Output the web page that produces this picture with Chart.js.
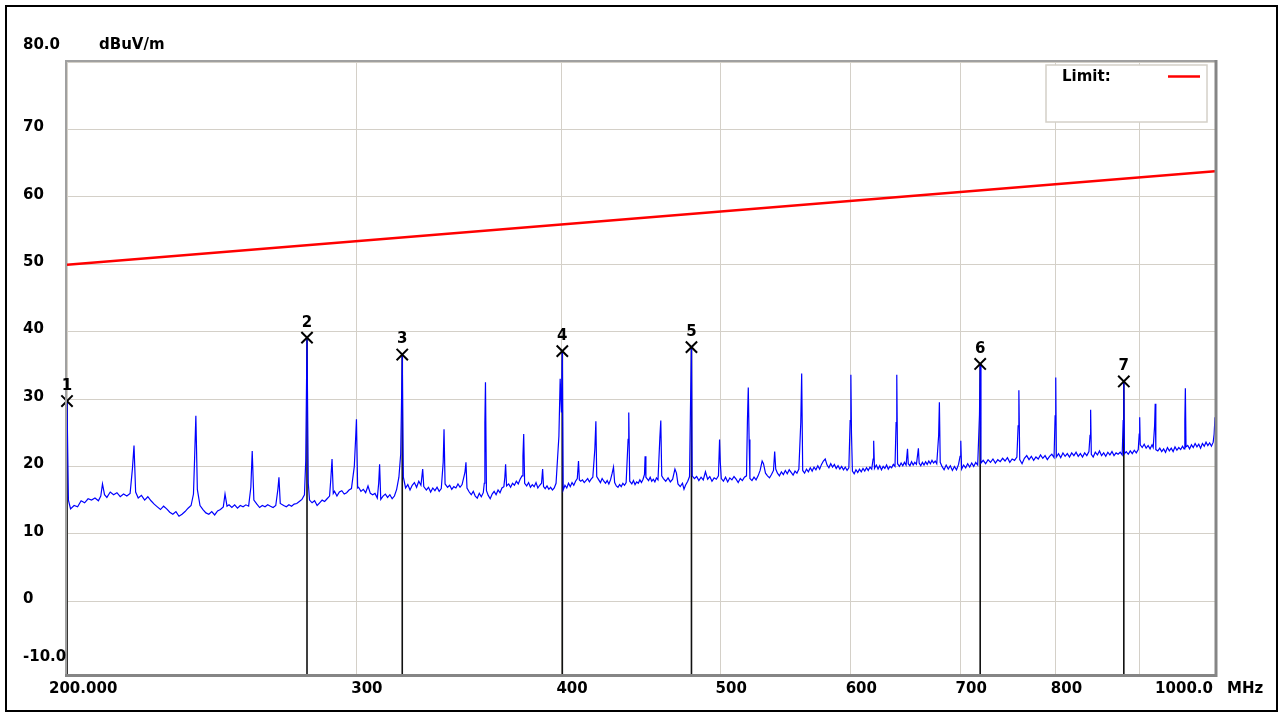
<!DOCTYPE html>
<html>
<head>
<meta charset="utf-8">
<title>Radiated emission 200 - 1000 MHz</title>
<script src="https://cdn.jsdelivr.net/npm/chart.js@4.4.1/dist/chart.umd.min.js"></script>
<style>
  html, body { margin: 0; padding: 0; background: #fff; }
  canvas { display: block; }
</style>
</head>
<body>
<canvas id="chart" width="1282" height="725"></canvas>
<script>
const trace = [
  [200, 29.7], [200.4, 15.0], [201, 13.7], [202, 14.2], [203, 14.0], [204, 14.9], [205, 14.6], [206, 15.2], [207, 15.0],
  [208, 15.3], [209, 14.9], [209.7, 15.6], [210.2, 17.4], [210.8, 15.8], [211.5, 15.4], [212.5, 16.2], [213.5, 15.8],
  [214.5, 16.1], [215.5, 15.5], [216.5, 15.9], [217.5, 15.6], [218.5, 16.0], [219.2, 19.6], [219.7, 23.1], [220.2, 16.2],
  [221, 15.3], [222, 15.7], [223, 15.0], [224, 15.5], [225, 14.9], [226, 14.4], [227, 14.0], [228, 13.6], [229, 14.1],
  [230, 13.7], [231, 13.2], [232, 12.9], [233, 13.3], [234, 12.6], [235, 12.9], [236, 13.3], [237, 13.8], [238, 14.2],
  [238.8, 15.9], [239.2, 21.5], [239.6, 27.5], [240.1, 16.6], [241, 14.2], [242, 13.6], [243, 13.1], [244, 12.9],
  [245, 13.3], [246, 12.8], [247, 13.4], [248, 13.6], [249, 14.0], [249.6, 15.9], [250.3, 14.1], [251, 14.3], [252, 13.9],
  [253, 14.3], [254, 13.8], [255, 14.2], [256, 14.0], [257, 14.3], [258, 14.1], [258.8, 16.9], [259.3, 22.3], [259.9, 15.0],
  [261, 14.4], [262, 13.9], [263, 14.2], [264, 14.0], [265, 14.3], [266, 14.1], [267, 13.9], [268, 14.2], [268.8, 16.6],
  [269.2, 18.4], [269.7, 14.5], [271, 14.2], [272, 14.0], [273, 14.3], [274, 14.1], [275, 14.4], [276, 14.5], [277, 14.8],
  [278, 15.1], [279, 15.8], [279.5, 20.8], [280, 39.1], [280.5, 17.5], [281, 15.0], [282, 14.6], [283, 14.9], [284, 14.2],
  [285, 14.6], [286, 15.0], [287, 14.8], [288, 15.2], [289, 15.6], [289.5, 18.1], [290, 21.1], [290.5, 16.0], [291, 16.3],
  [292, 15.6], [293, 16.2], [294, 16.4], [295, 15.9], [296, 16.1], [297, 16.5], [298, 16.7], [299.2, 20.0], [299.8, 24.5],
  [300.1, 27.0], [300.6, 16.8],
  [301, 16.9], [302, 16.3], [303, 16.6], [304, 16.1], [305, 17.1], [306, 16.0], [307, 15.8], [308, 16.0], [309, 15.3],
  [309.6, 17.5], [310, 20.3], [310.5, 15.1], [311.5, 15.6], [312.5, 15.9], [313.5, 15.4], [314.5, 15.8], [315.5, 15.2],
  [316.5, 15.6], [317.5, 16.6], [318.5, 18.4], [319.3, 21.8], [319.7, 30.0], [320, 36.6], [320.5, 18.4], [321.5, 16.8],
  [322.5, 17.3], [323.5, 16.5], [324.5, 17.2], [325.5, 17.6], [326.5, 16.9], [327.5, 17.8], [328.5, 17.2], [329.3, 19.6],
  [329.8, 17.0], [331, 16.5], [332, 16.9], [333, 16.2], [334, 16.8], [335, 16.4], [336, 16.9], [337, 16.3], [338, 16.7],
  [338.9, 20.6], [339.3, 25.5], [339.8, 17.4], [341, 16.9], [342, 17.2], [343, 16.6], [344, 17.0], [345, 16.8], [346, 17.4],
  [347, 16.9], [348, 17.3], [349.4, 19.1], [349.9, 20.6], [350.4, 16.8], [351.5, 16.2], [352.5, 15.8], [353.5, 16.3],
  [354.5, 15.6], [355.5, 15.3], [356.5, 16.0], [357.5, 15.5], [358.5, 16.1], [359, 17.5], [359.3, 26.5], [359.6, 32.5],
  [360.1, 16.4], [361, 15.7], [362, 15.2], [363, 15.9], [364, 16.3], [365, 15.8], [366, 16.5], [367, 16.1], [368, 16.8],
  [369, 17.0], [369.5, 18.4], [369.9, 20.3], [370.4, 17.1], [371.5, 17.4], [372.5, 16.9], [373.5, 17.5], [374.5, 17.2],
  [375.5, 17.8], [376.5, 17.4], [377.5, 18.1], [378.5, 18.6], [379, 21.5], [379.4, 24.8], [379.9, 17.5], [381, 17.1],
  [382, 17.6], [383, 16.9], [384, 17.3], [385, 17.0], [386, 17.6], [387, 16.8], [388, 17.2], [389, 17.5], [389.6, 19.6],
  [390.1, 17.0], [391, 16.7], [392, 17.1], [393, 16.6], [394, 16.9], [395, 16.5], [396, 16.8], [397, 17.5], [398.6, 24.5],
  [399.3, 33.0], [400, 28.0], [400.5, 37.1], [401, 16.5], [402, 17.2], [403, 16.8], [404, 17.5], [405, 17.0], [406, 17.6],
  [407, 17.2], [408, 17.8], [409, 18.2], [409.7, 20.8], [410.2, 18.0], [411, 17.8], [412, 18.0], [413, 17.6], [414, 17.9],
  [415, 18.2], [416, 17.7], [417, 18.1], [418, 18.4], [419.2, 22.6], [419.8, 26.7], [420.3, 18.5], [421.5, 18.0],
  [422.5, 17.6], [423.5, 18.2], [424.5, 17.8], [425.5, 17.5], [426.5, 17.9], [427.5, 17.4], [428.5, 18.0], [429.5, 19.0],
  [430.3, 19.9], [431, 17.6], [432, 17.1], [433, 16.9], [434, 17.3], [435, 17.0], [436, 17.5], [437, 17.2], [438, 17.6],
  [439.2, 24.0], [439.6, 28.0], [440.2, 17.8], [441.5, 17.4], [442.5, 17.9], [443.5, 17.3], [444.5, 17.7], [445.5, 17.5],
  [446.5, 18.0], [447.5, 17.6], [448.5, 18.1], [449.4, 18.8], [449.8, 21.5], [450.3, 18.4],
  [451, 18.2], [452, 17.9], [453, 18.4], [454, 17.8], [455, 18.1], [456, 17.7], [457, 18.3], [458, 18.0], [459.2, 24.3],
  [459.8, 26.8], [460.4, 18.6], [461.5, 18.2], [463, 17.8], [464.5, 18.3], [466, 17.7], [467.5, 18.1], [469, 19.6],
  [470, 19.0], [471, 17.4], [472.5, 17.0], [474, 17.5], [475, 16.6], [476, 17.2], [477.5, 17.8], [478.7, 18.5],
  [479.3, 28.2], [480, 37.7], [480.5, 18.6], [482, 18.2], [483.5, 18.5], [485, 17.9], [486.5, 18.4], [488, 18.0],
  [489.5, 19.2], [491, 18.1], [492.5, 18.5], [494, 17.8], [495.5, 18.3], [497, 18.1], [498.5, 18.6], [499.3, 24.0],
  [499.8, 20.6], [500.5, 18.2], [502, 17.8], [503.5, 18.4], [505, 17.7], [506.5, 18.3], [508, 18.0], [509.5, 18.5],
  [511, 18.1], [512.5, 17.6], [514, 18.2], [515.5, 17.9], [517, 18.4], [518.5, 18.6], [519.2, 27.0], [519.8, 31.7],
  [520.4, 24.0], [521, 18.2], [522.5, 17.9], [524, 18.4], [525.5, 18.0], [527, 18.6], [528.5, 19.4], [530, 20.8],
  [531, 20.4], [532.5, 19.0], [534, 18.6], [535.5, 18.3], [537, 18.8], [538.5, 19.4], [539.4, 22.2], [540.2, 19.6],
  [541.5, 19.0], [543, 18.6], [544.5, 19.2], [546, 18.8], [547.5, 19.4], [549, 18.9], [550.5, 19.5], [552, 19.1],
  [553.5, 18.7], [555, 19.3], [556.5, 19.0], [558, 19.6], [559.5, 26.5], [560.2, 33.8], [561, 19.4], [562.5, 19.0],
  [564, 19.6], [565.5, 19.2], [567, 19.8], [568.5, 19.3], [570, 19.9], [571.5, 19.5], [573, 20.1], [574.5, 19.6],
  [576, 20.3], [577.5, 20.8], [579, 21.1], [580.5, 20.2], [582, 19.8], [583.5, 20.4], [585, 19.9], [586.5, 20.3],
  [588, 19.7], [589.5, 20.1], [591, 19.6], [592.5, 20.0], [594, 19.5], [595.5, 19.9], [597, 19.4], [598.5, 19.8],
  [599.6, 26.8], [600.2, 33.6], [600.7, 25.0], [601.5, 19.3], [603, 18.9], [604.5, 19.5], [606, 19.1], [607.5, 19.6],
  [609, 19.2], [610.5, 19.7], [612, 19.3], [613.5, 19.8], [615, 19.4], [616.5, 19.9], [618, 19.6], [619.2, 21.1],
  [619.7, 23.8], [620.4, 19.7], [622, 20.2], [623.5, 19.6], [625, 20.1], [626.5, 19.5], [628, 20.0], [629.5, 19.7],
  [631, 20.2], [632.5, 19.6], [634, 20.0], [635.5, 19.8], [637, 20.3], [638.5, 20.0], [639.5, 26.5], [640.1, 33.6],
  [640.8, 20.4], [642.5, 20.0], [644, 20.5], [645.5, 20.1], [647, 20.6], [648.5, 20.2], [649.8, 22.6], [650.5, 20.4],
  [652, 20.1], [653.5, 20.7], [655, 20.2], [656.5, 20.6], [658, 20.3], [659.8, 22.7], [660.5, 20.5], [662, 20.1],
  [663.5, 20.6], [665, 20.2], [666.5, 20.7], [668, 20.3], [669.5, 20.8], [671, 20.4], [672.5, 20.9], [674, 20.5],
  [675.5, 20.8], [677, 20.4], [678.8, 24.6], [679.5, 29.5], [680.3, 20.6],
  [682, 20.0], [684, 19.5], [686, 20.2], [688, 19.6], [690, 20.1], [692, 19.4], [694, 20.0], [696, 19.5], [698, 20.3],
  [699.5, 21.5], [700.2, 23.8], [701, 19.6], [703, 20.2], [705, 19.8], [707, 20.4], [709, 19.9], [711, 20.5], [713, 20.0],
  [715, 20.6], [717, 20.2], [718.8, 27.7], [719.5, 35.2], [720.3, 20.5], [722.5, 20.9], [725, 20.4], [727.5, 21.0],
  [730, 20.6], [732.5, 21.1], [735, 20.5], [737.5, 21.0], [740, 20.7], [742.5, 21.2], [745, 20.8], [747.5, 21.3],
  [750, 20.6], [752.5, 21.1], [755, 20.9], [757.5, 21.4], [758.8, 26.0], [759.6, 31.3], [760.5, 21.0], [763, 20.4],
  [765.5, 21.2], [768, 21.6], [770.5, 21.0], [773, 21.5], [775.5, 20.9], [778, 21.4], [780.5, 21.1], [783, 21.7],
  [785.5, 21.2], [788, 21.6], [790.5, 21.0], [793, 21.5], [795.5, 21.8], [798, 21.3], [799.2, 27.5], [799.9, 33.2],
  [800.6, 21.4], [803, 21.9], [805.5, 21.3], [808, 22.0], [810.5, 21.5], [813, 21.9], [815.5, 21.4], [818, 22.0],
  [820.5, 21.6], [823, 22.1], [825.5, 21.5], [828, 21.9], [830.5, 21.4], [833, 22.0], [835.5, 21.6], [838, 22.2],
  [839.3, 24.6], [840, 28.4], [840.8, 21.8], [843, 21.4], [845.5, 22.1], [848, 21.7], [850.5, 22.3], [853, 21.6],
  [855.5, 22.0], [858, 21.5], [860.5, 22.1], [863, 21.7], [865.5, 22.2], [868, 21.6], [870.5, 22.0], [873, 21.8],
  [875.5, 22.1], [878, 21.7], [879.2, 26.8], [880, 32.6], [880.8, 21.9], [883, 22.2], [885.5, 21.8], [888, 22.3],
  [890.5, 21.9], [893, 22.4], [895.5, 22.0], [898, 22.5], [899.2, 24.8], [899.8, 27.3], [900.5, 23.2], [903, 22.8],
  [905.5, 23.3], [908, 22.7], [910.5, 23.1], [913, 22.6], [915.5, 23.2], [917, 22.8], [918.8, 26.0], [919.6, 29.3],
  [920.4, 22.5], [923, 22.3], [925.5, 22.7], [928, 22.2], [930.5, 22.6], [933, 22.1], [935.5, 22.8], [938, 22.3],
  [940.5, 22.7], [943, 22.2], [945.5, 22.9], [948, 22.4], [950.5, 22.8], [953, 22.5], [955.5, 23.0], [957.5, 22.6],
  [958.6, 26.8], [959.3, 31.6], [960.2, 22.9], [962.5, 23.1], [965, 22.6], [967.5, 23.2], [970, 22.8], [972.5, 23.4],
  [975, 22.9], [977.5, 23.3], [980, 22.7], [982.5, 23.4], [985, 23.0], [987.5, 23.6], [990, 23.1], [992.5, 23.5],
  [995, 23.0], [997.5, 23.6], [998.8, 24.8], [1000, 27.3]
];

const limitMHz = [200, 1000];
const limitDB = [49.9, 63.8];

const markerMHz = [200, 280, 320, 400.5, 480, 719.5, 880];
const markerDB = [29.7, 39.1, 36.6, 37.1, 37.7, 35.2, 32.6];
const markerNames = ["1", "2", "3", "4", "5", "6", "7"];

const xGrid = [200, 300, 400, 500, 600, 700, 800, 900, 1000];
const xTickLabels = ["200.000", "300", "400", "500", "600", "700", "800", "", "1000.0"];
const yGrid = [0, 10, 20, 30, 40, 50, 60, 70, 80];
const yLabelValues = [80, 70, 60, 50, 40, 30, 20, 10, 0, -10];
const yTickLabels = ["80.0", "70", "60", "50", "40", "30", "20", "10", "0", "-10.0"];

const yMin = -10.8;
const yMax = 80;

const FONT = "bold 15px 'DejaVu Sans'";

// marker stems: one segment per marker, broken by nulls
let stems = [];
markerMHz.forEach((f, i) => {
  stems.push({ x: f, y: markerDB[i] });
  stems.push({ x: f, y: yMin });
  stems.push({ x: f, y: null });
});

// frame, legend box and all the text
const decor = {
  id: "decor",
  afterDraw(chart) {
    const ctx = chart.ctx;
    const a = chart.chartArea;
    const xs = chart.scales.x;
    const ys = chart.scales.y;
    ctx.save();

    // plot frame
    ctx.strokeStyle = "#a0a0a0";
    ctx.lineWidth = 2;
    ctx.beginPath();
    ctx.moveTo(a.left - 1, a.bottom);
    ctx.lineTo(a.left - 1, a.top - 1);
    ctx.lineTo(a.right, a.top - 1);
    ctx.stroke();
    ctx.strokeStyle = "#858585";
    ctx.lineWidth = 3;
    ctx.beginPath();
    ctx.moveTo(a.right + 1, a.top - 2);
    ctx.lineTo(a.right + 1, a.bottom + 1.5);
    ctx.lineTo(a.left - 2, a.bottom + 1.5);
    ctx.stroke();

    // outer border
    ctx.strokeStyle = "#000";
    ctx.lineWidth = 2;
    ctx.strokeRect(6, 6, chart.width - 11, chart.height - 20);

    // legend box
    ctx.fillStyle = "#fff";
    ctx.fillRect(a.right - 169, a.top + 3, 161, 57);
    ctx.strokeStyle = "#d4d0c8";
    ctx.lineWidth = 1.5;
    ctx.strokeRect(a.right - 169, a.top + 3, 161, 57);
    ctx.fillStyle = "#000";
    ctx.font = FONT;
    ctx.textBaseline = "middle";
    ctx.textAlign = "left";
    ctx.fillText("Limit:", a.right - 153, a.top + 15);
    ctx.strokeStyle = "#ff0000";
    ctx.lineWidth = 2.5;
    ctx.beginPath();
    ctx.moveTo(a.right - 47, a.top + 14.5);
    ctx.lineTo(a.right - 15, a.top + 14.5);
    ctx.stroke();

    // y labels
    ctx.fillStyle = "#000";
    yLabelValues.forEach((v, i) => {
      let y = ys.getPixelForValue(v) - 2;
      if (i === 0) y -= 15;
      if (i === yLabelValues.length - 1) y -= 9;
      ctx.fillText(yTickLabels[i], 23, y);
    });
    ctx.fillText("dBuV/m", 99, ys.getPixelForValue(yMax) - 17);

    // x labels
    const ty = a.bottom + 15;
    xGrid.forEach((v, i) => {
      const px = xs.getPixelForValue(v);
      if (i === 0) {
        ctx.textAlign = "left";
        ctx.fillText(xTickLabels[i], px - 18, ty);
      } else if (i === xGrid.length - 1) {
        ctx.textAlign = "right";
        ctx.fillText(xTickLabels[i], px - 2, ty);
      } else {
        ctx.textAlign = "left";
        ctx.fillText(xTickLabels[i], px - 5, ty);
      }
    });
    ctx.textAlign = "left";
    ctx.fillText("MHz", a.right + 12, ty);

    // marker numbers
    ctx.textAlign = "center";
    markerMHz.forEach((f, i) => {
      ctx.fillText(markerNames[i], xs.getPixelForValue(f), ys.getPixelForValue(markerDB[i]) - 15);
    });
    ctx.restore();
  }
};

const data = {
  datasets: [
    {
      label: "Limit",
      data: limitMHz.map((f, i) => ({ x: f, y: limitDB[i] })),
      borderColor: "#ff0000",
      borderWidth: 2.5,
      pointRadius: 0,
      order: 0
    },
    {
      label: "Markers",
      data: markerMHz.map((f, i) => ({ x: f, y: markerDB[i] })),
      showLine: false,
      pointStyle: "crossRot",
      pointRadius: 8,
      pointBorderWidth: 2,
      pointBorderColor: "#000",
      clip: false,
      order: 0
    },
    {
      label: "Level",
      data: trace.map((p) => ({ x: p[0], y: p[1] })),
      borderColor: "#0000ff",
      borderWidth: 1.2,
      pointRadius: 0,
      tension: 0,
      order: 1
    },
    {
      label: "Stems",
      data: stems,
      borderColor: "#111",
      borderWidth: 1.6,
      pointRadius: 0,
      spanGaps: false,
      order: 2
    }
  ]
};

const config = {
  type: "line",
  data,
  options: {
    responsive: false,
    animation: false,
    devicePixelRatio: 1,
    layout: { padding: { left: 67, right: 67, top: 62, bottom: 51 } },
    plugins: { legend: { display: false }, tooltip: { enabled: false } },
    scales: {
      x: {
        type: "logarithmic",
        min: 200,
        max: 1000,
        border: { display: false },
        grid: { color: "#d4d0c8", lineWidth: 1, drawTicks: false },
        ticks: { display: false },
        afterBuildTicks: (scale) => { scale.ticks = xGrid.map((v) => ({ value: v })); },
        afterFit: (scale) => { scale.height = 0; }
      },
      y: {
        type: "linear",
        min: yMin,
        max: yMax,
        border: { display: false },
        grid: { color: "#d4d0c8", lineWidth: 1, drawTicks: false },
        ticks: { display: false },
        afterBuildTicks: (scale) => { scale.ticks = yGrid.map((v) => ({ value: v })); },
        afterFit: (scale) => { scale.width = 0; }
      }
    }
  },
  plugins: [decor]
};

let chart = new Chart(document.getElementById("chart"), config);
</script>
</body>
</html>
